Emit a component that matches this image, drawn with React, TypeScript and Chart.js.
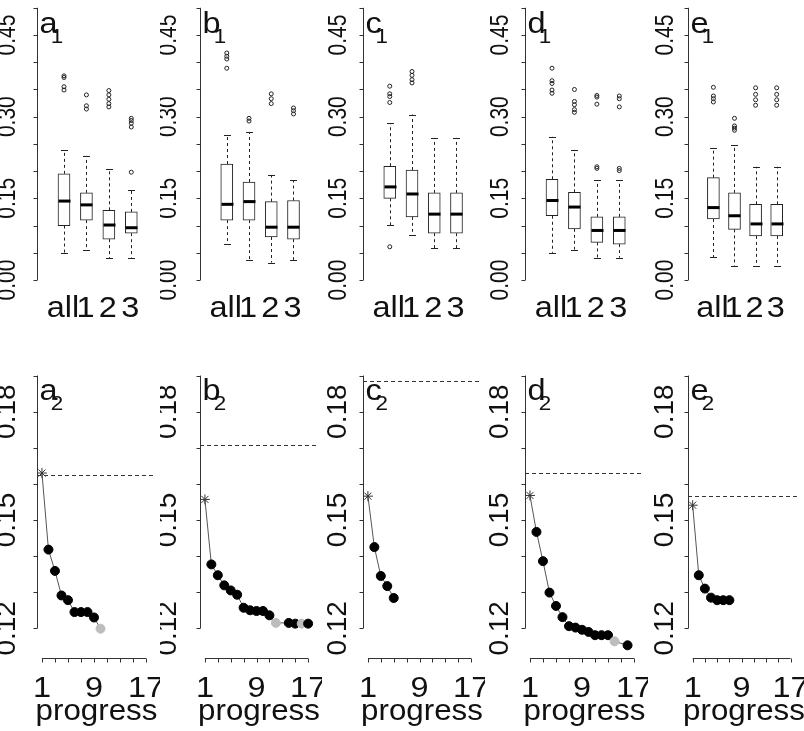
import React, { useEffect, useRef } from 'react';
import { Chart, registerables } from 'chart.js';

Chart.register(...registerables);

// ---------------- data ----------------
const panelLetters = ['a', 'b', 'c', 'd', 'e'];
const boxCategories = ['all', '1', '2', '3'];
const boxPositions = [1, 2, 3, 4];

const boxLow = [
  [0.049, 0.055, 0.040, 0.041],
  [0.066, 0.037, 0.032, 0.037],
  [0.101, 0.083, 0.058, 0.058],
  [0.050, 0.056, 0.041, 0.041],
  [0.042, 0.026, 0.026, 0.026],
];
const boxQ1 = [
  [0.100, 0.110, 0.075, 0.086],
  [0.110, 0.110, 0.079, 0.075],
  [0.150, 0.116, 0.086, 0.086],
  [0.118, 0.094, 0.069, 0.066],
  [0.112, 0.093, 0.081, 0.081],
];
const boxMedian = [
  [0.145, 0.138, 0.101, 0.096],
  [0.139, 0.144, 0.097, 0.097],
  [0.171, 0.158, 0.121, 0.121],
  [0.146, 0.134, 0.091, 0.091],
  [0.133, 0.118, 0.103, 0.103],
];
const boxQ3 = [
  [0.195, 0.160, 0.128, 0.125],
  [0.213, 0.180, 0.144, 0.146],
  [0.209, 0.202, 0.160, 0.160],
  [0.185, 0.161, 0.116, 0.116],
  [0.188, 0.160, 0.139, 0.139],
];
const boxHigh = [
  [0.239, 0.228, 0.203, 0.166],
  [0.267, 0.272, 0.193, 0.183],
  [0.288, 0.304, 0.261, 0.261],
  [0.263, 0.239, 0.183, 0.183],
  [0.243, 0.248, 0.208, 0.208],
];
const boxOutliers = [
  [[0.375, 0.372, 0.355, 0.349], [0.340, 0.320, 0.314], [0.348, 0.340, 0.332, 0.324, 0.318], [0.297, 0.293, 0.288, 0.281, 0.198]],
  [[0.417, 0.411, 0.406, 0.389], [0.297, 0.292], [0.342, 0.333, 0.324], [0.316, 0.311, 0.305]],
  [[0.356, 0.342, 0.337, 0.326, 0.061], [0.383, 0.376, 0.368, 0.362], [], []],
  [[0.389, 0.366, 0.361, 0.349, 0.343], [0.350, 0.328, 0.322, 0.313, 0.308], [0.339, 0.336, 0.323, 0.208, 0.205], [0.338, 0.333, 0.318, 0.205, 0.201]],
  [[0.354, 0.338, 0.333, 0.327], [0.297, 0.283, 0.279, 0.275], [0.353, 0.341, 0.331, 0.321], [0.353, 0.341, 0.331, 0.321]],
];

const topTicks = [0, 0.05, 0.1, 0.15, 0.2, 0.25, 0.3, 0.35, 0.4, 0.45, 0.5];
const topTickLabelValues = [0, 0.15, 0.3, 0.45];
const topTickLabels = ['0.00', '0.15', '0.30', '0.45'];

const progressA = [0.163, 0.1418, 0.1359, 0.1291, 0.1278, 0.1245, 0.1245, 0.1245, 0.1230, 0.1199];
const progressB = [0.1557, 0.1377, 0.1347, 0.1319, 0.1305, 0.1293, 0.1257, 0.1250, 0.1248, 0.1248, 0.1236, 0.1215, null, 0.1215, 0.1213, 0.1213, 0.1213];
const progressC = [0.1566, 0.1425, 0.1345, 0.1317, 0.1284];
const progressD = [0.1568, 0.1467, 0.1386, 0.1299, 0.1262, 0.1231, 0.1206, 0.1202, 0.1196, 0.1190, 0.1181, 0.1181, 0.1181, 0.1164, null, 0.1153];
const progressE = [0.1541, 0.1347, 0.1310, 0.1285, 0.1278, 0.1278, 0.1278];
const progressSeries = [progressA, progressB, progressC, progressD, progressE];
const grayPoints = [[10], [12, 16], [], [14], []];
const baselineValues = [0.1626, 0.1707, 0.1885, 0.1629, 0.1566];

const bottomTicks = [0.12, 0.13, 0.14, 0.15, 0.16, 0.17, 0.18, 0.19];
const bottomTickLabelValues = [0.12, 0.15, 0.18];
const bottomTickLabels = ['0.12', '0.15', '0.18'];
const progressTicks = [1, 3, 5, 7, 9, 11, 13, 15, 17];
const progressTickLabelValues = [1, 9, 17];
const progressTickLabels = ['1', '9', '17'];

// ---------------- layout ----------------
const PANEL_LEFT = [0, 160, 322, 485, 648];
const PANEL_RIGHT = [160, 322, 485, 648, 804];
const AXIS_X = [37, 200, 363, 525, 688];
const LABEL_RIGHT = [15, 176, 346, 508, 673];
const PLOT_W = 118;
const TOP_H = 345;
const BOT_TOP = 345;
const BOT_H = 386;
const FONT = '"Liberation Sans", Arial, Helvetica, sans-serif';
const INK = '#111';
const AXIS_COLOR = '#333';

function hText(ctx: CanvasRenderingContext2D, text: string, x: number, y: number, size: number, align: CanvasTextAlign = 'center', sx = 1.12) {
  ctx.save();
  ctx.font = `${size}px ${FONT}`;
  ctx.fillStyle = INK;
  ctx.textAlign = align;
  ctx.textBaseline = 'alphabetic';
  ctx.translate(x, y);
  ctx.scale(sx, 1);
  ctx.fillText(text, 0, 0);
  ctx.restore();
}

function vText(ctx: CanvasRenderingContext2D, text: string, x: number, y: number, size: number, sx: number) {
  ctx.save();
  ctx.font = `${size}px ${FONT}`;
  ctx.fillStyle = INK;
  ctx.textAlign = 'center';
  ctx.textBaseline = 'alphabetic';
  ctx.translate(x, y);
  ctx.scale(sx, 1);
  ctx.rotate(-Math.PI / 2);
  ctx.fillText(text, 0, 0);
  ctx.restore();
}

function panelTitle(ctx: CanvasRenderingContext2D, letter: string, sub: string, left: number, base: number) {
  ctx.save();
  ctx.font = `29px ${FONT}`;
  const w = ctx.measureText(letter).width * 1.12;
  ctx.restore();
  hText(ctx, letter, left, base, 29, 'left');
  hText(ctx, sub, left + w * 0.62, base + 10, 20, 'left');
}

function drawYAxis(ctx: CanvasRenderingContext2D, chart: any, ticks: number[], labelVals: number[], labels: string[], labelX: number, size: number, sx: number) {
  const ys = chart.scales.y;
  const x0 = Math.round(chart.chartArea.left) + 0.5;
  ctx.save();
  ctx.strokeStyle = AXIS_COLOR;
  ctx.lineWidth = 1;
  ctx.beginPath();
  ctx.moveTo(x0, ys.getPixelForValue(ticks[0]));
  ctx.lineTo(x0, ys.getPixelForValue(ticks[ticks.length - 1]));
  ticks.forEach((t) => {
    const y = Math.round(ys.getPixelForValue(t)) + 0.5;
    ctx.moveTo(x0, y);
    ctx.lineTo(x0 - 4, y);
  });
  ctx.stroke();
  ctx.restore();
  labelVals.forEach((v, k) => vText(ctx, labels[k], labelX, ys.getPixelForValue(v), size, sx));
}

function topConfig(i: number): any {
  const ax = AXIS_X[i] - PANEL_LEFT[i];
  const W = PANEL_RIGHT[i] - PANEL_LEFT[i];
  const pxCat = 22.43;
  const xmin = 1 - 27 / pxCat;
  const xmax = xmin + PLOT_W / pxCat;
  const pxUnit = 544.4;
  const yBottomPx = 300;
  const yTopPx = 5;
  const yZeroPx = 280;
  const plugin = {
    id: 'boxextras' + i,
    afterDatasetsDraw(chart: any) {
      const ctx = chart.ctx as CanvasRenderingContext2D;
      const xs = chart.scales.x;
      const ys = chart.scales.y;
      ctx.save();
      ctx.strokeStyle = '#222';
      ctx.lineWidth = 1;
      boxPositions.forEach((p, k) => {
        const cx = Math.round(xs.getPixelForValue(p)) + 0.5;
        const lo = ys.getPixelForValue(boxLow[i][k]);
        const q1 = ys.getPixelForValue(boxQ1[i][k]);
        const q3 = ys.getPixelForValue(boxQ3[i][k]);
        const hi = ys.getPixelForValue(boxHigh[i][k]);
        ctx.setLineDash([3, 3]);
        ctx.beginPath();
        ctx.moveTo(cx, q1);
        ctx.lineTo(cx, lo);
        ctx.moveTo(cx, q3);
        ctx.lineTo(cx, hi);
        ctx.stroke();
        ctx.setLineDash([]);
        ctx.beginPath();
        const yl = Math.round(lo) + 0.5;
        const yh = Math.round(hi) + 0.5;
        ctx.moveTo(cx - 3.5, yl);
        ctx.lineTo(cx + 3.5, yl);
        ctx.moveTo(cx - 3.5, yh);
        ctx.lineTo(cx + 3.5, yh);
        ctx.stroke();
        const med = ys.getPixelForValue(boxMedian[i][k]);
        ctx.save();
        ctx.lineWidth = 3;
        ctx.strokeStyle = '#000';
        ctx.beginPath();
        ctx.moveTo(cx - 6, med);
        ctx.lineTo(cx + 6, med);
        ctx.stroke();
        ctx.restore();
      });
      ctx.restore();
    },
    afterDraw(chart: any) {
      const ctx = chart.ctx as CanvasRenderingContext2D;
      const xs = chart.scales.x;
      drawYAxis(ctx, chart, topTicks, topTickLabelValues, topTickLabels, LABEL_RIGHT[i] - PANEL_LEFT[i], 21, 1.2);
      boxPositions.forEach((p, k) => hText(ctx, boxCategories[k], xs.getPixelForValue(p) - 1, 317, 29, 'center'));
      panelTitle(ctx, panelLetters[i], '1', chart.chartArea.left + 2.5, 33);
    },
  };
  return {
    type: 'bar',
    data: {
      datasets: [
        {
          type: 'bar',
          data: boxPositions.map((p, k) => ({ x: p, y: [boxQ1[i][k], boxQ3[i][k]] })),
          backgroundColor: '#ffffff',
          borderColor: '#222',
          borderWidth: 1,
          borderSkipped: false,
          barThickness: 12,
        },
        {
          type: 'scatter',
          data: boxOutliers[i].flatMap((vals, k) => vals.map((v) => ({ x: boxPositions[k], y: v }))),
          pointRadius: 2,
          pointStyle: 'circle',
          pointBorderColor: '#222',
          pointBackgroundColor: 'rgba(0,0,0,0)',
          pointBorderWidth: 1,
          showLine: false,
        },
      ],
    },
    options: {
      animation: false,
      responsive: false,
      maintainAspectRatio: false,
      events: [],
      layout: { padding: { left: ax, right: W - ax - PLOT_W, top: yTopPx, bottom: TOP_H - yBottomPx } },
      scales: {
        x: { type: 'linear', min: xmin, max: xmax, display: false, offset: false },
        y: { type: 'linear', min: (yZeroPx - yBottomPx) / pxUnit, max: (yZeroPx - yTopPx) / pxUnit, display: false },
      },
      plugins: { legend: { display: false }, tooltip: { enabled: false } },
    },
    plugins: [plugin],
  };
}

function bottomConfig(i: number): any {
  const ax = AXIS_X[i] - PANEL_LEFT[i];
  const W = PANEL_RIGHT[i] - PANEL_LEFT[i];
  const pxUnitX = 6.5625;
  const xmin = 1 - 5 / pxUnitX;
  const xmax = xmin + PLOT_W / pxUnitX;
  const pxPerVal = 3611;
  const ref012 = 628.33 - BOT_TOP;
  const topPx = 370 - BOT_TOP;
  const botPx = 658 - BOT_TOP;
  const vals = progressSeries[i];
  const grays = grayPoints[i];
  const plugin = {
    id: 'lineextras' + i,
    beforeDatasetsDraw(chart: any) {
      const ctx = chart.ctx as CanvasRenderingContext2D;
      const ys = chart.scales.y;
      const y = Math.round(ys.getPixelForValue(baselineValues[i])) + 0.5;
      ctx.save();
      ctx.strokeStyle = '#333';
      ctx.lineWidth = 1;
      ctx.setLineDash([4, 3]);
      ctx.beginPath();
      ctx.moveTo(chart.chartArea.left, y);
      ctx.lineTo(chart.chartArea.right, y);
      ctx.stroke();
      ctx.restore();
    },
    afterDraw(chart: any) {
      const ctx = chart.ctx as CanvasRenderingContext2D;
      const xs = chart.scales.x;
      drawYAxis(ctx, chart, bottomTicks, bottomTickLabelValues, bottomTickLabels, LABEL_RIGHT[i] - PANEL_LEFT[i], 28, 1.0);
      const yb = Math.round(chart.chartArea.bottom) + 0.5;
      ctx.save();
      ctx.strokeStyle = AXIS_COLOR;
      ctx.lineWidth = 1;
      ctx.beginPath();
      ctx.moveTo(xs.getPixelForValue(progressTicks[0]), yb);
      ctx.lineTo(xs.getPixelForValue(progressTicks[progressTicks.length - 1]), yb);
      progressTicks.forEach((t) => {
        const x = Math.round(xs.getPixelForValue(t)) + 0.5;
        ctx.moveTo(x, yb);
        ctx.lineTo(x, yb + 4);
      });
      ctx.stroke();
      ctx.restore();
      progressTickLabelValues.forEach((v, k) => hText(ctx, progressTickLabels[k], xs.getPixelForValue(v), 697 - BOT_TOP, 29, 'center'));
      hText(ctx, 'progress', (chart.chartArea.left + chart.chartArea.right) / 2 + 1, 720 - BOT_TOP, 29, 'center', 1.08);
      panelTitle(ctx, panelLetters[i], '2', chart.chartArea.left + 2.5, 400 - BOT_TOP);
    },
  };
  return {
    type: 'line',
    data: {
      datasets: [
        {
          data: vals.map((v, k) => ({ x: k + 1, y: v })),
          borderColor: '#555',
          borderWidth: 1,
          spanGaps: true,
          fill: false,
          pointStyle: vals.map((_, k) => (k === 0 ? 'star' : 'circle')),
          pointRadius: vals.map((_, k) => (k === 0 ? 5 : 4.5)),
          pointBackgroundColor: vals.map((_, k) => (grays.includes(k + 1) ? '#bdbdbd' : '#000')),
          pointBorderColor: vals.map((_, k) => (k === 0 ? '#333' : grays.includes(k + 1) ? '#bdbdbd' : '#000')),
          pointBorderWidth: 1,
        },
      ],
    },
    options: {
      animation: false,
      responsive: false,
      maintainAspectRatio: false,
      events: [],
      layout: { padding: { left: ax, right: W - ax - PLOT_W, top: topPx, bottom: BOT_H - botPx } },
      scales: {
        x: { type: 'linear', min: xmin, max: xmax, display: false },
        y: {
          type: 'linear',
          min: 0.12 - (botPx - ref012) / pxPerVal,
          max: 0.12 + (ref012 - topPx) / pxPerVal,
          display: false,
        },
      },
      plugins: { legend: { display: false }, tooltip: { enabled: false } },
    },
    plugins: [plugin],
  };
}

function PanelCanvas({ left, top, width, height, config }: { left: number; top: number; width: number; height: number; config: () => any }) {
  const ref = useRef<HTMLCanvasElement>(null);
  useEffect(() => {
    const chart = new Chart(ref.current as HTMLCanvasElement, config());
    return () => chart.destroy();
  }, []);
  return (
    <canvas
      ref={ref}
      width={width}
      height={height}
      style={{ position: 'absolute', left, top, width, height }}
    />
  );
}

export default function App() {
  return (
    <div style={{ position: 'absolute', left: 0, top: 0, width: 804, height: 731, background: '#fff', overflow: 'hidden' }}>
      {panelLetters.map((_, i) => (
        <PanelCanvas
          key={'t' + i}
          left={PANEL_LEFT[i]}
          top={0}
          width={PANEL_RIGHT[i] - PANEL_LEFT[i]}
          height={TOP_H}
          config={() => topConfig(i)}
        />
      ))}
      {panelLetters.map((_, i) => (
        <PanelCanvas
          key={'b' + i}
          left={PANEL_LEFT[i]}
          top={BOT_TOP}
          width={PANEL_RIGHT[i] - PANEL_LEFT[i]}
          height={BOT_H}
          config={() => bottomConfig(i)}
        />
      ))}
    </div>
  );
}
